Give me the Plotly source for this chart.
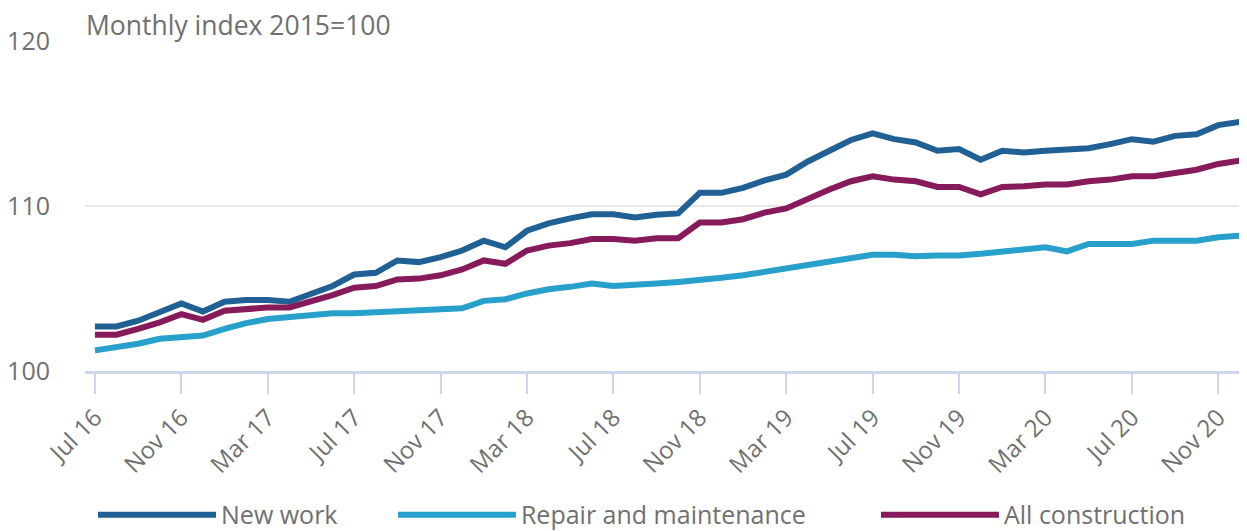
import plotly.graph_objects as go

months = ["Jul 16", "Aug 16", "Sep 16", "Oct 16", "Nov 16", "Dec 16",
          "Jan 17", "Feb 17", "Mar 17", "Apr 17", "May 17", "Jun 17",
          "Jul 17", "Aug 17", "Sep 17", "Oct 17", "Nov 17", "Dec 17",
          "Jan 18", "Feb 18", "Mar 18", "Apr 18", "May 18", "Jun 18",
          "Jul 18", "Aug 18", "Sep 18", "Oct 18", "Nov 18", "Dec 18",
          "Jan 19", "Feb 19", "Mar 19", "Apr 19", "May 19", "Jun 19",
          "Jul 19", "Aug 19", "Sep 19", "Oct 19", "Nov 19", "Dec 19",
          "Jan 20", "Feb 20", "Mar 20", "Apr 20", "May 20", "Jun 20",
          "Jul 20", "Aug 20", "Sep 20", "Oct 20", "Nov 20", "Dec 20"]

new_work = [102.7, 102.7, 103.05, 103.55, 104.1, 103.6, 104.2, 104.3, 104.3, 104.2,
            104.65, 105.15, 105.85, 105.95, 106.7, 106.6, 106.9, 107.3, 107.9, 107.5,
            108.5, 108.95, 109.25, 109.5, 109.5, 109.3, 109.47, 109.55, 110.8, 110.8,
            111.1, 111.55, 111.9, 112.7, 113.35, 114.0, 114.4, 114.05, 113.85, 113.35,
            113.45, 112.8, 113.35, 113.25, 113.35, 113.45, 113.5, 113.75, 114.05, 113.9,
            114.25, 114.35, 114.9, 115.1]

repair = [101.25, 101.45, 101.65, 101.95, 102.05, 102.15, 102.55, 102.9, 103.15, 103.25,
          103.35, 103.5, 103.5, 103.55, 103.6, 103.7, 103.75, 103.8, 104.25, 104.35,
          104.7, 104.95, 105.1, 105.3, 105.15, 105.2, 105.3, 105.4, 105.5, 105.65,
          105.8, 106.0, 106.2, 106.4, 106.6, 106.8, 107.05, 107.05, 106.95, 107.0,
          107.0, 107.1, 107.25, 107.4, 107.5, 107.25, 107.7, 107.7, 107.7, 107.9,
          107.9, 107.9, 108.1, 108.2]

all_construction = [102.2, 102.2, 102.55, 102.95, 103.45, 103.1, 103.65, 103.75, 103.85, 103.85,
                    104.2, 104.6, 105.05, 105.15, 105.55, 105.6, 105.8, 106.15, 106.7, 106.5,
                    107.3, 107.6, 107.75, 108.0, 108.0, 107.9, 108.05, 108.05, 109.0, 109.0,
                    109.2, 109.6, 109.85, 110.45, 111.0, 111.5, 111.8, 111.6, 111.5, 111.15,
                    111.15, 110.7, 111.15, 111.2, 111.3, 111.3, 111.5, 111.6, 111.8, 111.8,
                    112.0, 112.2, 112.55, 112.75]

series_names = ["New work", "Repair and maintenance", "All construction"]
series_colors = ["#206095", "#27a0cc", "#871a5b"]
legend_ids = ["legend", "legend2", "legend3"]
legend_x = [0.0069, 0.265, 0.6807]
tick_step = 4

x = list(range(len(months)))
tickvals = x[::tick_step]
ticktext = months[::tick_step]

TXT = "#707070"
FONT = "Open Sans"

fig = go.Figure()
for name, vals, col, lg in zip(series_names, [new_work, repair, all_construction],
                               series_colors, legend_ids):
    fig.add_trace(go.Scatter(x=x, y=vals, name=name, mode="lines", legend=lg,
                             line=dict(color=col, width=6)))

legend_common = dict(orientation="h", xanchor="left", y=-0.436, yanchor="middle",
                     itemwidth=118, font=dict(size=25, color=TXT, family=FONT),
                     itemclick=False, itemdoubleclick=False, bgcolor="rgba(0,0,0,0)")

# page body has an 8px default margin, so the figure is 8px smaller than the window
fig.update_layout(
    width=1239, height=523,
    margin=dict(l=77, r=0, t=33, b=160, autoexpand=False),
    paper_bgcolor="white", plot_bgcolor="white",
    font=dict(family=FONT, color=TXT, size=24),
    showlegend=True,
    legend=dict(x=legend_x[0], **legend_common),
    legend2=dict(x=legend_x[1], **legend_common),
    legend3=dict(x=legend_x[2], **legend_common),
    annotations=[dict(text="Monthly index 2015=100", xref="paper", yref="paper",
                      x=0, y=1, xanchor="left", yanchor="bottom", yshift=-4, xshift=-1,
                      showarrow=False, font=dict(size=26.5, color=TXT))],
)

fig.update_xaxes(range=[-0.46, 53.33], tickmode="array", tickvals=tickvals, ticktext=ticktext,
                 tickangle=-45, ticks="outside", ticklen=20, tickwidth=2, tickcolor="#cdd6ea",
                 showline=True, linecolor="#cdd6ea", linewidth=3, showgrid=False, zeroline=False,
                 automargin=False, tickfont=dict(size=24, color=TXT))
fig.update_yaxes(range=[100, 120], tickvals=[100, 110, 120], showgrid=True, gridcolor="#e8e8e8",
                 gridwidth=2, zeroline=False, showline=False, ticks="",
                 automargin=False, ticklabelstandoff=34, tickfont=dict(size=25, color=TXT))

fig.write_html("out.html")
